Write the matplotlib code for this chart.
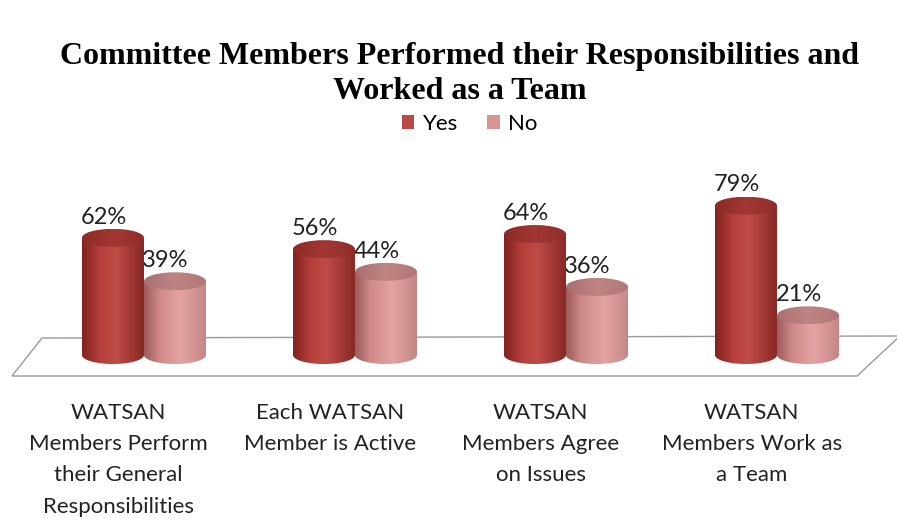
import numpy as np
import matplotlib
matplotlib.use('Agg')
import matplotlib.pyplot as plt
from matplotlib.patches import Ellipse, PathPatch, Polygon, Patch
from matplotlib.path import Path
from matplotlib.colors import LinearSegmentedColormap

# ---------------- data ----------------
categories = [
    "WATSAN\nMembers Perform\ntheir General\nResponsibilities",
    "Each WATSAN\nMember is Active",
    "WATSAN\nMembers Agree\non Issues",
    "WATSAN\nMembers Work as\na Team",
]
series_names = ["Yes", "No"]
yes_values = [62, 56, 64, 79]
no_values = [39, 44, 36, 21]
title_text = "Committee Members Performed their Responsibilities and\nWorked as a Team"

# ---------------- layout ----------------
W, H = 897, 526
fig = plt.figure(figsize=(W / 100, H / 100), dpi=100)
ax = fig.add_axes([0, 0, 1, 1])
ax.axis('off')

PX_X, X0 = 211.0, 144.0     # px per category, px of first category centre
PX_Y, Y0 = 1.89, 355.0      # px per percent, px (from top) of zero

def px(x, y):
    return ((x - X0) / PX_X, (Y0 - y) / PX_Y)

bar_w = 62 / PX_X
ell_h = 18 / PX_Y
offset = 0.147

red_cmap = LinearSegmentedColormap.from_list(
    "red", [(0, "#82221e"), (0.3, "#b6403c"), (0.55, "#bf4b47"), (1, "#882825")])
pink_cmap = LinearSegmentedColormap.from_list(
    "pink", [(0, "#9c5a59"), (0.25, "#cf8a89"), (0.6, "#e4a3a3"), (1, "#c48786")])
red_top = LinearSegmentedColormap.from_list("rt", ["#8c2a27", "#a23733", "#902e2b"])
pink_top = LinearSegmentedColormap.from_list("pt", ["#a86f6e", "#bf8584", "#b07776"])

grad = np.linspace(0, 1, 256).reshape(1, -1)

def cylinder(xc, val, cmap, tcmap, z):
    x0, x1 = xc - bar_w / 2, xc + bar_w / 2
    t = np.linspace(np.pi, 2 * np.pi, 60)
    arc = np.column_stack([xc + bar_w / 2 * np.cos(t), ell_h / 2 * np.sin(t)])
    verts = [(x0, val)] + [tuple(p) for p in arc] + [(x1, val), (x0, val)]
    body = PathPatch(Path(verts, closed=True), facecolor='none', edgecolor='none', zorder=z)
    ax.add_patch(body)
    im = ax.imshow(grad, cmap=cmap, extent=[x0, x1, -ell_h / 2, val],
                   aspect='auto', zorder=z, interpolation='bilinear')
    im.set_clip_path(body)
    top = Ellipse((xc, val), bar_w, ell_h, facecolor='none', edgecolor='none', zorder=z + 0.1)
    ax.add_patch(top)
    im2 = ax.imshow(grad, cmap=tcmap, extent=[x0, x1, val - ell_h / 2, val + ell_h / 2],
                    aspect='auto', zorder=z + 0.1, interpolation='bilinear')
    im2.set_clip_path(top)

# floor
floor = Polygon([px(12, 376), px(42, 338), px(900, 336), px(857, 376)], closed=True,
                facecolor='white', edgecolor='#9a9a9a', lw=1.0, zorder=1)
ax.add_patch(floor)

val_font = dict(family='Lato', fontsize=17, color='#222222')
cat_font = dict(family='Lato', fontsize=16, color='#222222')
for i, (yv, nv) in enumerate(zip(yes_values, no_values)):
    # No series (behind)
    cylinder(i + offset, nv, pink_cmap, pink_top, 2)
    ax.text(i + offset - 0.045, nv + 11, f"{nv}%", ha='center', va='center', zorder=3, **val_font)
    # Yes series (front)
    cylinder(i - offset, yv, red_cmap, red_top, 4)
    ax.text(i - offset - 0.045, yv + 11, f"{yv}%", ha='center', va='center', zorder=5, **val_font)
    # category label
    ax.text(i - 0.12, px(0, 403)[1], categories[i], ha='center', va='top',
            linespacing=1.7, zorder=5, **cat_font)

ax.set_xlim(-X0 / PX_X, (W - X0) / PX_X)
ax.set_ylim(-(H - Y0) / PX_Y, Y0 / PX_Y)

fig.text(460 / W, 1 - 74 / H, title_text, ha='center', va='center', family='Liberation Serif',
         fontweight='bold', fontsize=23, linespacing=1.3)

handles = [Patch(facecolor='#b94a48', edgecolor='none'), Patch(facecolor='#d99594', edgecolor='none')]
fig.legend(handles, series_names, loc='center', bbox_to_anchor=(470 / W, 1 - 124 / H), ncol=2,
           frameon=False, prop={'family': 'Lato', 'size': 16}, handlelength=0.55, handleheight=0.55,
           handletextpad=0.4, columnspacing=1.3)

fig.savefig('out.png', dpi=100, facecolor='white')
